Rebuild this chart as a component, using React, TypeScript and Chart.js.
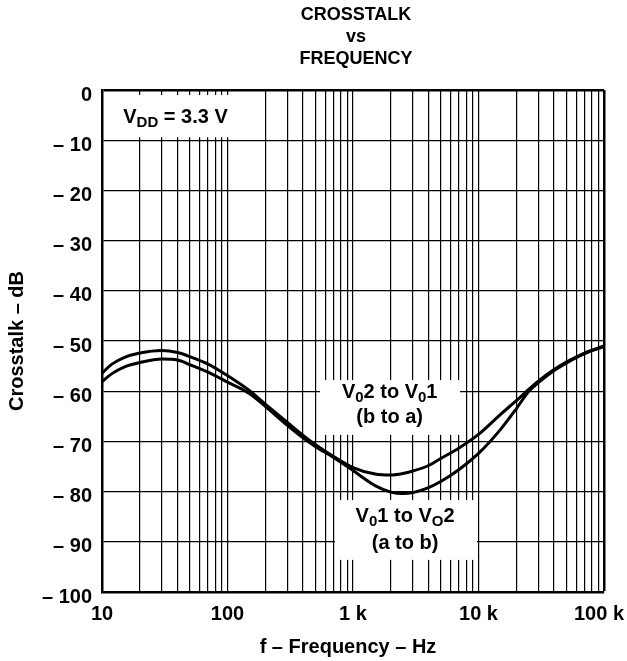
import React, { useEffect, useRef } from 'react';
import { Chart, registerables } from 'chart.js';

Chart.register(...registerables);

// ---------- data ----------
const frequencies = [10, 12, 15, 20, 30, 40, 50, 70, 100, 150, 200, 300, 400, 500, 700, 1000, 1500, 2000, 2500, 3000, 4000, 5000, 7000, 10000, 15000, 20000, 25000, 30000, 40000, 50000, 70000, 100000];
const crosstalkBtoA = [-56.4, -54.6, -53.3, -52.4, -51.9, -52.3, -53.1, -54.6, -56.9, -59.9, -62.6, -66.2, -68.8, -70.6, -73.0, -75.2, -76.5, -76.7, -76.4, -75.9, -74.8, -73.4, -71.3, -68.6, -64.6, -61.9, -59.7, -58.0, -55.7, -54.2, -52.4, -51.0];
const crosstalkAtoB = [-58.1, -56.5, -55.2, -54.3, -53.6, -53.8, -54.7, -56.2, -58.2, -60.5, -63.0, -66.8, -69.3, -71.0, -73.2, -75.8, -78.8, -80.1, -80.4, -80.2, -79.2, -78.0, -75.6, -72.4, -67.6, -63.5, -60.1, -58.3, -55.9, -54.4, -52.5, -51.1];

const decadeValues = [10, 100, 1000, 10000, 100000];
const decadeLabels = ['10', '100', '1 k', '10 k', '100 k\u2002'];
const yMin = -100;
const yMax = 0;
const yStep = 10;

const titleLines = ['CROSSTALK', 'vs', 'FREQUENCY'];
const xAxisTitle = 'f – Frequency – Hz';
const yAxisTitle = 'Crosstalk – dB';
const vddText = ['V_{DD} = 3.3 V'];
const bToAText = ['V_{0}2 to V_{0}1', '(b to a)'];
const aToBText = ['V_{0}1 to V_{O}2', '(a to b)'];

// grid lines at 1..9 x each decade
const xGridValues: number[] = [];
for (let d = 10; d <= 10000; d *= 10) for (let m = 1; m <= 9; m++) xGridValues.push(m * d);
xGridValues.push(100000);

const FONT = '"Liberation Sans", Arial, Helvetica, sans-serif';

// annotation placement (data units)
const annotations = [
  { lines: vddText, box: [10, 121, -1.0, -9.4], cx: 38.5, baselines: [-6.63], size: 20, sub: 15, subOff: 4 },
  { lines: bToAText, box: [546, 7130, -57.8, -68.7], cx: 1960, baselines: [-61.4, -66.4], size: 20, sub: 15, subOff: 3.5 },
  { lines: aToBText, box: [719, 9720, -81.7, -93.6], cx: 2600, baselines: [-86.1, -91.5], size: 20, sub: 15, subOff: 3.5 },
];

function parseRich(s: string) {
  const parts: { t: string; sub: boolean }[] = [];
  const re = /_\{([^}]*)\}/g;
  let last = 0;
  let m: RegExpExecArray | null;
  while ((m = re.exec(s))) {
    if (m.index > last) parts.push({ t: s.slice(last, m.index), sub: false });
    parts.push({ t: m[1], sub: true });
    last = m.index + m[0].length;
  }
  if (last < s.length) parts.push({ t: s.slice(last), sub: false });
  return parts;
}

function drawRich(ctx: CanvasRenderingContext2D, s: string, cx: number, baseline: number, size: number, sub: number, subOff: number) {
  const parts = parseRich(s);
  const fontFor = (p: { sub: boolean }) => `bold ${p.sub ? sub : size}px ${FONT}`;
  let total = 0;
  for (const p of parts) {
    ctx.font = fontFor(p);
    total += ctx.measureText(p.t).width;
  }
  let x = cx - total / 2;
  ctx.textAlign = 'left';
  ctx.textBaseline = 'alphabetic';
  ctx.fillStyle = '#000';
  for (const p of parts) {
    ctx.font = fontFor(p);
    ctx.fillText(p.t, x, baseline + (p.sub ? subOff : 0));
    x += ctx.measureText(p.t).width;
  }
}

const decorPlugin = {
  id: 'decor',
  beforeDatasetsDraw(chart: any) {
    const { ctx, scales } = chart;
    const xs = scales.x;
    const ys = scales.y;
    ctx.save();
    for (const a of annotations) {
      const x0 = Math.max(xs.getPixelForValue(a.box[0]), chart.chartArea.left + 2);
      const x1 = xs.getPixelForValue(a.box[1]);
      const y0 = ys.getPixelForValue(a.box[2]);
      const y1 = ys.getPixelForValue(a.box[3]);
      ctx.fillStyle = '#fff';
      ctx.fillRect(x0, y0, x1 - x0, y1 - y0);
      a.lines.forEach((line, i) => {
        drawRich(ctx, line, xs.getPixelForValue(a.cx), ys.getPixelForValue(a.baselines[i]), a.size, a.sub, a.subOff);
      });
    }
    ctx.restore();
  },
  afterDraw(chart: any) {
    const { ctx, chartArea } = chart;
    ctx.save();
    ctx.fillStyle = '#000';
    ctx.font = `bold 18px ${FONT}`;
    ctx.textAlign = 'center';
    ctx.textBaseline = 'alphabetic';
    const cx = (chartArea.left + chartArea.right) / 2 + 3;
    const baselines = [20, 42, 63.5];
    titleLines.forEach((t, i) => ctx.fillText(t, cx, baselines[i]));
    ctx.restore();
  },
};

export default function App() {
  const ref = useRef<HTMLCanvasElement | null>(null);
  useEffect(() => {
    document.body.style.margin = '0';
    const canvas = ref.current!;
    const chart = new Chart(canvas, {
      type: 'line',
      data: {
        datasets: [
          {
            label: 'V02 to V01 (b to a)',
            data: frequencies.map((f, i) => ({ x: f, y: crosstalkBtoA[i] })),
            borderColor: '#000',
            borderWidth: 3,
            pointRadius: 0,
            cubicInterpolationMode: 'monotone',
            fill: false,
          },
          {
            label: 'V01 to VO2 (a to b)',
            data: frequencies.map((f, i) => ({ x: f, y: crosstalkAtoB[i] })),
            borderColor: '#000',
            borderWidth: 3,
            pointRadius: 0,
            cubicInterpolationMode: 'monotone',
            fill: false,
          },
        ],
      },
      options: {
        animation: false,
        responsive: false,
        devicePixelRatio: 1,
        layout: { padding: { top: 90, right: 23, left: 0, bottom: 0 } },
        plugins: { legend: { display: false }, tooltip: { enabled: false } },
        scales: {
          x: {
            type: 'logarithmic',
            min: 10,
            max: 100000,
            afterBuildTicks: (scale: any) => {
              scale.ticks = xGridValues.map((v) => ({ value: v }));
            },
            afterFit: (scale: any) => {
              scale.height = 69;
              scale.paddingLeft = 0;
              scale.paddingRight = 0;
            },
            ticks: {
              autoSkip: false,
              maxRotation: 0,
              minRotation: 0,
              color: '#000',
              padding: 10,
              font: { family: FONT, size: 20, weight: 'bold' },
              callback: (v: any) => {
                const idx = decadeValues.indexOf(Number(v));
                return idx >= 0 ? decadeLabels[idx] : '';
              },
            },
            grid: {
              color: '#000',
              lineWidth: (c: any) => (c.tick && c.tick.value === 100000 ? 2.5 : 1.2),
              drawTicks: false,
            },
            border: { display: true, color: '#000', width: 2.5 },
            title: {
              display: true,
              text: xAxisTitle + '\u2002',
              color: '#000',
              font: { family: FONT, size: 20, weight: 'bold' },
              padding: { top: 0, bottom: 2 },
            },
          },
          y: {
            type: 'linear',
            min: yMin,
            max: yMax,
            afterFit: (scale: any) => {
              scale.width = 102;
              scale.paddingTop = 0;
              scale.paddingBottom = 0;
            },
            ticks: {
              stepSize: yStep,
              color: '#000',
              padding: 10,
              labelOffset: 5,
              font: { family: FONT, size: 20, weight: 'bold' },
              callback: (v: any) => (Number(v) === 0 ? '0' : '– ' + Math.abs(Number(v))),
            },
            grid: {
              color: '#000',
              lineWidth: (c: any) => (c.tick && c.tick.value === 0 ? 2.5 : 1.2),
              drawTicks: false,
            },
            border: { display: true, color: '#000', width: 2.5 },
            title: {
              display: true,
              text: yAxisTitle,
              color: '#000',
              font: { family: FONT, size: 20, weight: 'bold' },
              padding: { top: 5, bottom: 0 },
            },
          },
        },
      },
      plugins: [decorPlugin],
    } as any);
    return () => chart.destroy();
  }, []);
  return (
    <div style={{ width: 627, height: 661, background: '#fff' }}>
      <canvas ref={ref} width={627} height={661} style={{ display: 'block' }} />
    </div>
  );
}
